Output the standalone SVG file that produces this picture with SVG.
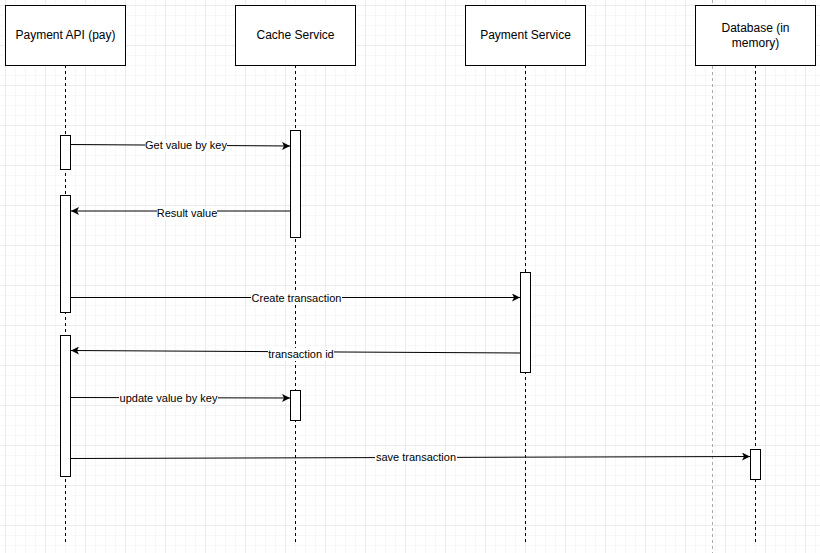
<svg xmlns="http://www.w3.org/2000/svg" width="820" height="553" viewBox="0 0 820 553">
<defs>
<pattern id="minor" x="5" y="5" width="10" height="10" patternUnits="userSpaceOnUse"><path d="M10 0H0V10" fill="none" stroke="#f0f0f0" stroke-width="1"/></pattern>
<pattern id="major" x="5" y="5" width="40" height="40" patternUnits="userSpaceOnUse"><path d="M40 0H0V40" fill="none" stroke="#e0e0e0" stroke-width="1"/></pattern>
<marker id="arr" viewBox="0 0 10 10" refX="10" refY="5" markerWidth="8" markerHeight="8" markerUnits="userSpaceOnUse" orient="auto"><path d="M0 0L10 5L0 10L2.5 5Z" fill="#000"/></marker>
</defs>
<style>
.box{fill:#fff;stroke:#000;stroke-width:1}
.life{stroke:#000;stroke-dasharray:3 3;stroke-width:1}
.act{fill:#fff;stroke:#000;stroke-width:1}
.msg{stroke:#000;stroke-width:1;fill:none;marker-end:url(#arr)}
.t{font-family:"Liberation Sans",Arial,sans-serif;font-size:12px;fill:#000;text-anchor:middle}
.l{font-family:"Liberation Sans",Arial,sans-serif;font-size:11px;fill:#000;text-anchor:middle}
.lbg{fill:#fff}
</style>
<rect width="820" height="553" fill="#fff"/>
<rect width="820" height="553" fill="url(#minor)"/>
<rect width="820" height="553" fill="url(#major)"/>
<line x1="712.5" y1="0" x2="712.5" y2="553" stroke="#aaa" stroke-dasharray="3 3"/>
<g id="lifelines">
<line class="life" x1="65.5" y1="65" x2="65.5" y2="545"/>
<line class="life" x1="295.5" y1="65" x2="295.5" y2="545"/>
<line class="life" x1="525.5" y1="65" x2="525.5" y2="545"/>
<line class="life" x1="755.5" y1="65" x2="755.5" y2="545"/>
</g>
<g id="payment-api"><rect class="box" x="5.5" y="5.5" width="120" height="60"/><text class="t" x="65.5" y="39">Payment API (pay)</text></g>
<g id="cache-service"><rect class="box" x="235.5" y="5.5" width="120" height="60"/><text class="t" x="295.5" y="39">Cache Service</text></g>
<g id="payment-service"><rect class="box" x="465.5" y="5.5" width="120" height="60"/><text class="t" x="525.5" y="39">Payment Service</text></g>
<g id="database"><rect class="box" x="695.5" y="5.5" width="120" height="60"/><text class="t" x="755.5" y="32">Database (in</text><text class="t" x="755.5" y="47">memory)</text></g>
<g id="activations">
<rect class="act" x="60.5" y="135.5" width="10" height="34"/>
<rect class="act" x="60.5" y="195.5" width="10" height="117"/>
<rect class="act" x="60.5" y="335.5" width="10" height="141"/>
<rect class="act" x="290.5" y="130.5" width="10" height="107"/>
<rect class="act" x="290.5" y="390.5" width="10" height="30"/>
<rect class="act" x="520.5" y="272.5" width="10" height="100"/>
<rect class="act" x="750.5" y="449.5" width="10" height="30"/>
</g>
<g id="connectors">
<path class="msg" d="M70.5 144.5L290 146"/>
<path class="msg" d="M290.5 211L71 211"/>
<path class="msg" d="M70.5 297.5L520 297.5"/>
<path class="msg" d="M520.5 353L71 350.5"/>
<path class="msg" d="M70.5 397.5L290 398"/>
<path class="msg" d="M70.5 458.5L750 456.5"/>
<rect class="lbg" x="145" y="139" width="82" height="13"/>
<text class="l" x="186" y="149">Get value by key</text>
<rect class="lbg" x="157" y="207" width="60" height="13"/>
<text class="l" x="187" y="217">Result value</text>
<rect class="lbg" x="251" y="292" width="91" height="13"/>
<text class="l" x="296.5" y="302">Create transaction</text>
<rect class="lbg" x="268" y="348" width="66" height="13"/>
<text class="l" x="301" y="358">transaction id</text>
<rect class="lbg" x="119" y="392" width="99" height="13"/>
<text class="l" x="168.5" y="402">update value by key</text>
<rect class="lbg" x="375" y="451" width="82" height="13"/>
<text class="l" x="416" y="461">save transaction</text>
</g>
</svg>
